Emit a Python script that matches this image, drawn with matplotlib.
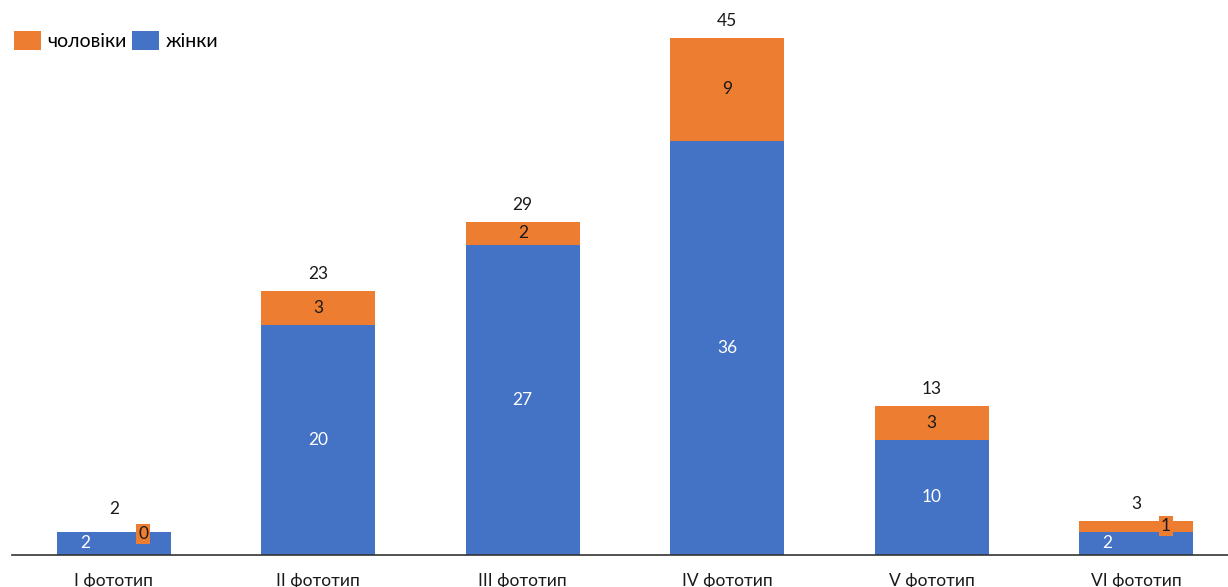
import matplotlib
matplotlib.use("Agg")
import matplotlib.pyplot as plt
import numpy as np

categories = ["I фототип", "II фототип", "III фототип", "IV фототип", "V фототип", "VI фототип"]
women = [2, 20, 27, 36, 10, 2]
men = [0, 3, 2, 9, 3, 1]
totals = [2, 23, 29, 45, 13, 3]

BLUE = "#4472C4"
ORANGE = "#ED7D31"

plt.rcParams['font.family'] = ['Lato', 'DejaVu Sans']

W, H = 1228, 587
fig = plt.figure(figsize=(W / 100, H / 100), dpi=100)
left_px, right_px = 11.5, 1238.5
base_px, top_px = 555, 26
ymax = (base_px - top_px) / 11.5
ax = fig.add_axes([left_px / W, (H - base_px) / H, (right_px - left_px) / W, (base_px - top_px) / H])
ax.set_xlim(-0.5, len(categories) - 0.5)
ax.set_ylim(0, ymax)

x = np.arange(len(categories))
bw = 0.556
ax.bar(x, women, bw, color=BLUE, label="жінки", zorder=2)
ax.bar(x, men, bw, bottom=women, color=ORANGE, label="чоловіки", zorder=2)

fs = 12.5
for i in range(len(categories)):
    small = men[i] <= 1
    wx = x[i] - 0.14 if small else x[i]
    mx = x[i] + 0.145 if small else x[i]
    ax.text(wx, women[i] / 2, str(women[i]), ha="center", va="center",
            color="white", fontsize=fs, zorder=3)
    if small:
        my = women[i] - 0.2 if men[i] == 0 else women[i] + men[i] / 2
        ax.text(mx, my, str(men[i]), ha="center", va="center", color="#1a1a1a", fontsize=fs,
                zorder=4, bbox=dict(boxstyle="square,pad=0.12", fc=ORANGE, ec="none"))
    else:
        ax.text(mx, women[i] + men[i] / 2, str(men[i]), ha="center", va="center",
                color="#1a1a1a", fontsize=fs, zorder=3)
    off = 2.0 if men[i] == 0 else 1.45
    ax.text(x[i], totals[i] + off, str(totals[i]), ha="center", va="center",
            color="#1a1a1a", fontsize=fs, zorder=3)

ax.set_xticks(x)
ax.set_xticklabels(categories, fontsize=fs, color="#1a1a1a")
ax.tick_params(axis="x", length=0, pad=13)
ax.set_yticks([])
for s in ["top", "right", "left"]:
    ax.spines[s].set_visible(False)
ax.spines["bottom"].set_color("#333333")
ax.spines["bottom"].set_linewidth(1.2)
ax.spines["bottom"].set_clip_on(False)

handles, labels = ax.get_legend_handles_labels()
leg = fig.legend(handles[::-1], labels[::-1], loc="upper left", bbox_to_anchor=(0.0, 0.97),
                 ncol=2, frameon=False, fontsize=14, handlelength=1.39, handleheight=1.08,
                 columnspacing=0.25, handletextpad=0.35, borderaxespad=0.3)

fig.savefig("out.png", dpi=100)
